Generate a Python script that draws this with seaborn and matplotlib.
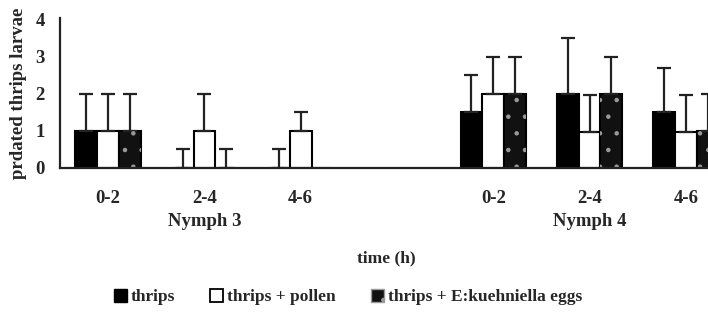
import matplotlib
matplotlib.use("Agg")
import matplotlib.pyplot as plt
import matplotlib.transforms as mtransforms
from matplotlib.patches import Rectangle
import seaborn as sns
import pandas as pd

# ---- data ----
slots = ["N3 0-2", "N3 2-4", "N3 4-6", "gap", "N4 0-2", "N4 2-4", "N4 4-6"]
slot_labels = ["0-2", "2-4", "4-6", "", "0-2", "2-4", "4-6"]
data_slots = ["N3 0-2", "N3 2-4", "N3 4-6", "N4 0-2", "N4 2-4", "N4 4-6"]
treatments = ["thrips", "thrips + pollen", "thrips + E:kuehniella eggs"]
thrips_mean = [1, 0, 0, 1.5, 2, 1.5]
thrips_err = [1, 0.5, 0.5, 1.0, 1.5, 1.2]
pollen_mean = [1, 1, 1, 2, 0.97, 0.97]
pollen_err = [1, 1, 0.5, 1, 1, 1]
eggs_mean = [1, 0, 0, 2, 2, 1]
eggs_err = [1, 0.5, 0, 1, 1, 1]
group_labels = ["Nymph 3", "Nymph 4"]

means = [thrips_mean, pollen_mean, eggs_mean]
errs = [thrips_err, pollen_err, eggs_err]
rows = []
for t, m, e in zip(treatments, means, errs):
    for s, mv, ev in zip(data_slots, m, e):
        rows.append({"slot": s, "treatment": t, "value": mv, "err": ev})
df = pd.DataFrame(rows)

sns.set_style("white")
plt.rcParams["font.family"] = ["Liberation Serif", "DejaVu Serif"]
plt.rcParams["font.weight"] = "bold"
plt.rcParams["hatch.linewidth"] = 0.8

fig = plt.figure(figsize=(7.08, 3.25), dpi=100)
ax = fig.add_axes([60 / 708, 1 - 168 / 325, 674 / 708, 150 / 325])

width = 0.68
sns.barplot(data=df, x="slot", y="value", hue="treatment", order=slots,
            hue_order=treatments, palette=["black", "white", "#111111"],
            saturation=1, width=width, edgecolor="black", linewidth=1.5,
            errorbar=None, dodge=True, legend=False, ax=ax)

bw = width / 3
lookup = {(r.slot, r.treatment): (r.value, r.err) for r in df.itertuples()}
for p in list(ax.patches):
    cx = p.get_x() + p.get_width() / 2
    si = int(round(cx))
    hi = int(round((cx - si) / bw)) + 1
    if not (0 <= si < len(slots)) or not (0 <= hi < 3):
        continue
    key = (slots[si], treatments[hi])
    if key not in lookup:
        continue
    v, e = lookup[key]
    if hi == 2 and p.get_height() > 0:
        ax.add_patch(Rectangle((p.get_x(), 0), p.get_width(), p.get_height(),
                               fill=False, hatch=".", edgecolor="#9a9a9a",
                               linewidth=0, zorder=p.get_zorder() + 0.1))
    if e > 0:
        ax.errorbar(cx, v, yerr=[[0], [e]], fmt="none", ecolor="#222222",
                    elinewidth=1.6, capsize=5, capthick=1.6, zorder=1)

ax.set_xlim(-0.5, 6.5)
ax.set_ylim(0, 4.05)
ax.set_yticks([0, 1, 2, 3, 4])
ax.set_yticklabels(["0", "1", "2", "3", "4"], fontsize=13.5, fontweight="bold")
ax.set_xticks([i - 0.5 for i in range(7)])
ax.set_xticklabels([])
ax.set_xticks(range(7), minor=True)
ax.set_xticklabels(slot_labels, minor=True, fontsize=13.5, fontweight="bold")
ax.tick_params(axis="x", which="major", direction="out", length=5, width=1.3,
               color="#222222")
ax.tick_params(axis="x", which="minor", length=0, pad=16)
ax.tick_params(axis="y", direction="out", length=6, width=1.3, color="#222222",
               pad=5)
for side in ["top", "right"]:
    ax.spines[side].set_visible(False)
for side in ["left", "bottom"]:
    ax.spines[side].set_linewidth(1.6)
    ax.spines[side].set_color("#222222")
ax.set_xlabel("")
ax.set_ylabel("prdated thrips larvae", fontsize=13.5, fontweight="bold")
ax.yaxis.set_label_coords(-0.049, 0.5)

trans = mtransforms.blended_transform_factory(ax.transData, fig.transFigure)
ax.text(1.0, 1 - 222 / 325, group_labels[0], transform=trans, ha="center",
        va="center", fontsize=13.5, fontweight="bold")
ax.text(5.0, 1 - 222 / 325, group_labels[1], transform=trans, ha="center",
        va="center", fontsize=13.5, fontweight="bold")
fig.text(386 / 708, 1 - 258 / 325, "time (h)", ha="center", va="center",
         fontsize=12.5, fontweight="bold")

handles = [
    Rectangle((0, 0), 1, 1, facecolor="black", edgecolor="black"),
    Rectangle((0, 0), 1, 1, facecolor="white", edgecolor="black", linewidth=1.3),
    Rectangle((0, 0), 1, 1, facecolor="#111111", edgecolor="#9a9a9a", hatch="."),
]
fig.legend(handles, treatments, loc="center", ncol=3, frameon=False,
           bbox_to_anchor=(348 / 708, 1 - 297 / 325),
           handlelength=0.75, handleheight=0.8, handletextpad=0.25,
           columnspacing=2.0, prop={"weight": "bold", "size": 12.5})

fig.savefig("out.png", dpi=100)
